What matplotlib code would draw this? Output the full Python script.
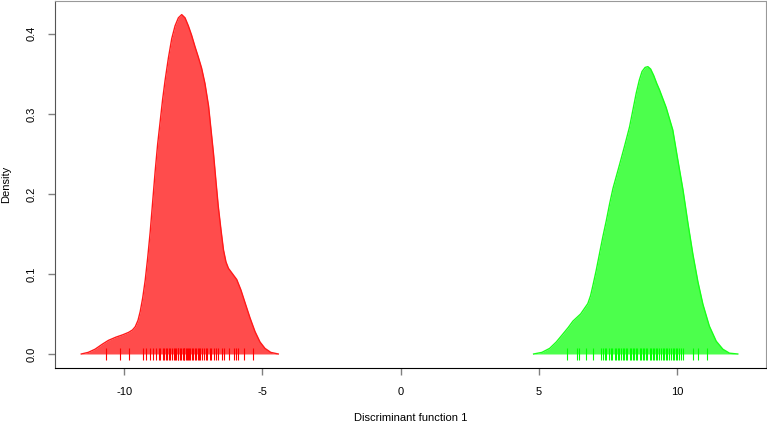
import numpy as np
import matplotlib.pyplot as plt

# density curves
red_x = [-11.55, -11.3, -11.05, -10.8, -10.57, -10.3, -10.05, -9.84, -9.7, -9.6,
         -9.5, -9.42, -9.33, -9.24, -9.15, -9.06, -8.97, -8.88, -8.79, -8.7,
         -8.61, -8.52, -8.4, -8.28, -8.16, -8.04, -7.92, -7.8, -7.68, -7.56,
         -7.44, -7.32, -7.2, -7.08, -6.95, -6.86, -6.77, -6.68, -6.6, -6.5,
         -6.41, -6.32, -6.23, -6.08, -5.93, -5.78, -5.63, -5.45, -5.27, -5.09,
         -4.91, -4.7, -4.43]
red_y = [0.0, 0.002, 0.006, 0.012, 0.017, 0.021, 0.024, 0.027, 0.03, 0.034,
         0.042, 0.053, 0.07, 0.092, 0.12, 0.152, 0.19, 0.228, 0.262, 0.29,
         0.318, 0.342, 0.37, 0.394, 0.41, 0.42, 0.424, 0.42, 0.41, 0.398,
         0.384, 0.371, 0.357, 0.338, 0.31, 0.28, 0.25, 0.215, 0.185, 0.155,
         0.13, 0.115, 0.107, 0.1, 0.093, 0.08, 0.064, 0.045, 0.028, 0.015,
         0.007, 0.002, 0.0]

green_x = [4.8, 5.1, 5.38, 5.62, 5.86, 6.05, 6.22, 6.5, 6.76, 6.86,
           6.94, 7.06, 7.18, 7.3, 7.43, 7.55, 7.67, 7.79, 7.91, 8.09,
           8.27, 8.39, 8.51, 8.62, 8.72, 8.83, 8.93, 9.03, 9.14, 9.25,
           9.35, 9.59, 9.83, 10.0, 10.2, 10.38, 10.56, 10.74, 10.92, 11.15,
           11.4, 11.64, 11.88, 12.18]
green_y = [0.0, 0.002, 0.007, 0.015, 0.025, 0.033, 0.041, 0.05, 0.063, 0.073,
           0.085, 0.104, 0.125, 0.146, 0.167, 0.188, 0.207, 0.222, 0.237, 0.26,
           0.284, 0.305, 0.326, 0.342, 0.353, 0.358, 0.359, 0.356, 0.348, 0.338,
           0.33, 0.308, 0.28, 0.245, 0.205, 0.163, 0.124, 0.09, 0.062, 0.035,
           0.016, 0.006, 0.001, 0.0]

# rug values
red_rug = [-10.66, -10.14, -9.82, -9.33, -9.22, -9.07, -8.97, -8.85, -8.75, -8.69,
           -8.61, -8.56, -8.49, -8.45, -8.37, -8.34, -8.27, -8.21, -8.18, -8.11,
           -8.07, -8.04, -7.97, -7.95, -7.89, -7.85, -7.83, -7.77, -7.73, -7.71,
           -7.64, -7.61, -7.54, -7.51, -7.44, -7.41, -7.34, -7.29, -7.25, -7.17,
           -7.13, -7.04, -6.99, -6.91, -6.86, -6.77, -6.69, -6.6, -6.48, -6.38,
           -6.21, -6.02, -5.94, -5.88, -5.66, -5.33]
green_rug = [6.01, 6.37, 6.44, 6.68, 6.93, 7.25, 7.31, 7.37, 7.43, 7.53,
             7.6, 7.65, 7.73, 7.77, 7.85, 7.9, 7.95, 8.03, 8.07, 8.15,
             8.19, 8.27, 8.31, 8.39, 8.43, 8.51, 8.55, 8.63, 8.67, 8.75,
             8.79, 8.87, 8.91, 8.99, 9.03, 9.11, 9.15, 9.23, 9.27, 9.35,
             9.39, 9.47, 9.51, 9.59, 9.63, 9.71, 9.75, 9.83, 9.87, 9.95,
             9.99, 10.07, 10.11, 10.2, 10.56, 10.74, 11.08]

xticks = [-10, -5, 0, 5, 10]
yticks = [0.0, 0.1, 0.2, 0.3, 0.4]

plt.rcParams['font.family'] = ['Liberation Sans', 'DejaVu Sans']

fig = plt.figure(figsize=(7.67, 4.23), dpi=100)
ax = fig.add_axes([55 / 767, 55 / 423, 711 / 767, 367 / 423])

ax.fill_between(red_x, red_y, color='#ff4c4c', lw=0)
ax.plot(red_x, red_y, color='#ff1a1a', lw=1.0)
ax.fill_between(green_x, green_y, color='#4cff4c', lw=0)
ax.plot(green_x, green_y, color='#1aff1a', lw=1.0)

ax.vlines(red_rug, -0.007, 0.0075, color='red', lw=0.8)
ax.vlines(green_rug, -0.007, 0.0075, color='#00ff00', lw=0.8)

ax.set_xlim(-12.5, 13.2)
ax.set_ylim(-0.0175, 0.441)
ax.set_xticks(xticks)
ax.set_xticklabels([str(t) for t in xticks])
ax.set_yticks(yticks)
ax.set_yticklabels(['%.1f' % t for t in yticks], rotation=90, va='center')
ax.tick_params(length=5, width=1, color='#808080', labelsize=8, pad=9)
ax.tick_params(axis='y', pad=8)

ax.spines['top'].set_color('#999999')
ax.spines['right'].set_color('#999999')
ax.spines['left'].set_color('#555555')
ax.spines['bottom'].set_color('black')

ax.set_xlabel('Discriminant function 1', fontsize=8, va='center')
ax.xaxis.set_label_coords(0.5, -50 / 367)
ax.set_ylabel('Density', fontsize=8, va='center')
ax.yaxis.set_label_coords(-49 / 711, 0.5)

fig.savefig('out.png', dpi=100)
